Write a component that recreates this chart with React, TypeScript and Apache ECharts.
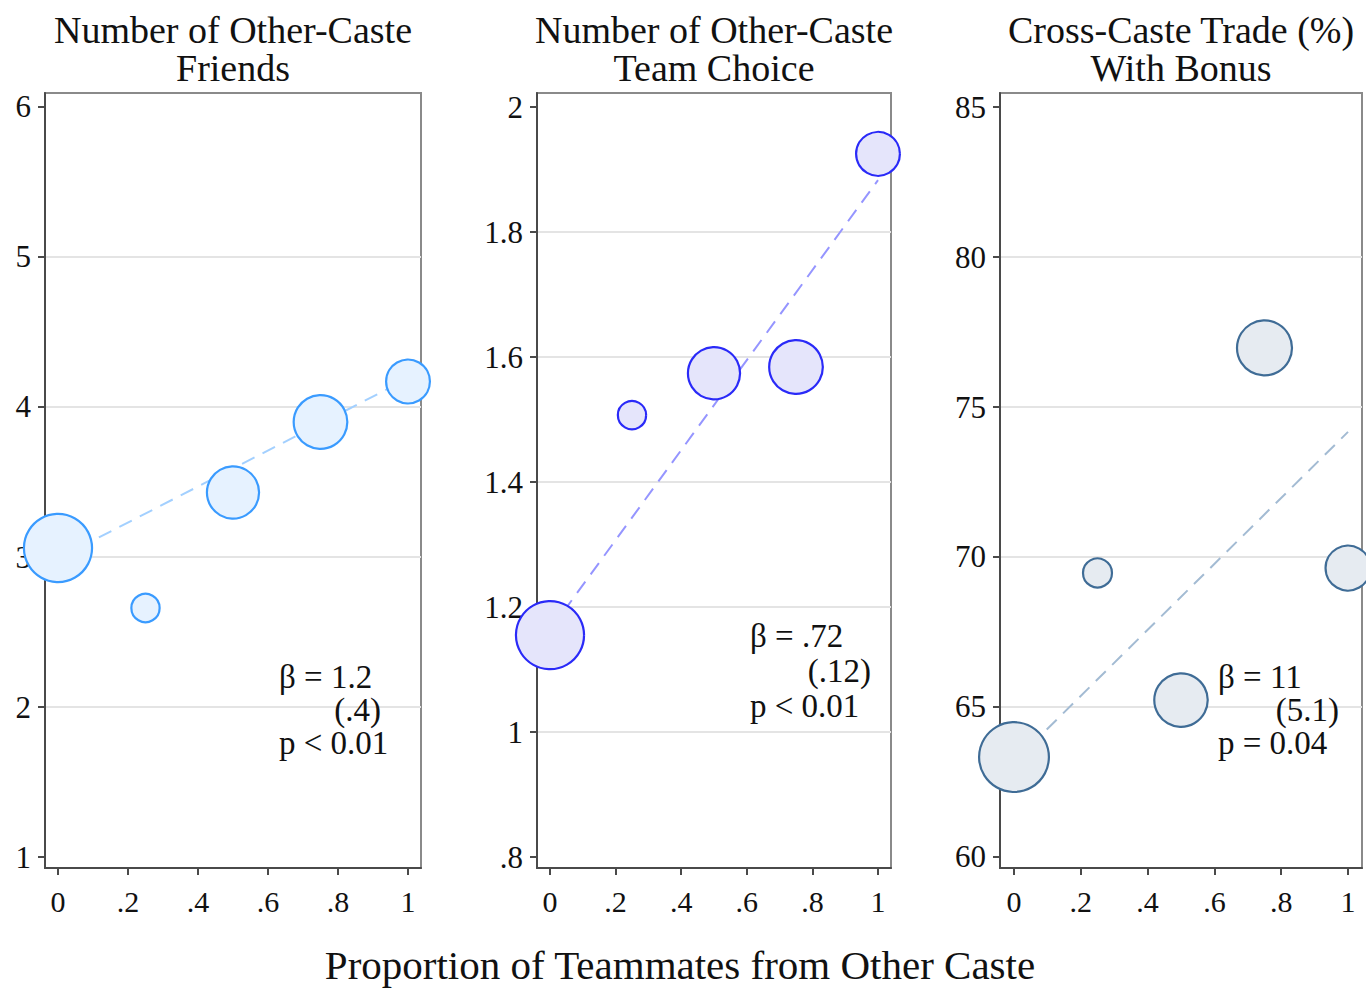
import React, { useEffect, useRef } from "react";
import * as echarts from "echarts";

// ---- data ----
const xValues = [0, 0.25, 0.5, 0.75, 1];
const groupWeights = [290, 50, 170, 180, 120];
const friendsValues = [3.06, 2.66, 3.43, 3.9, 4.17];
const teamChoiceValues = [1.155, 1.507, 1.574, 1.584, 1.925];
const tradeValues = [63.33, 69.47, 65.23, 76.97, 69.63];
const fitX = [0, 1];
const friendsFit = [2.99, 4.19];
const teamChoiceFit = [1.163, 1.883];
const tradeFit = [63.17, 74.17];

const xTicks = [0, 0.2, 0.4, 0.6, 0.8, 1];
const xTickLabels = ["0", ".2", ".4", ".6", ".8", "1"];
const friendsTicks = [1, 2, 3, 4, 5, 6];
const friendsTickLabels = ["1", "2", "3", "4", "5", "6"];
const teamTicks = [0.8, 1, 1.2, 1.4, 1.6, 1.8, 2];
const teamTickLabels = [".8", "1", "1.2", "1.4", "1.6", "1.8", "2"];
const tradeTicks = [60, 65, 70, 75, 80, 85];
const tradeTickLabels = ["60", "65", "70", "75", "80", "85"];

const titles = [
  ["Number of Other-Caste", "Friends"],
  ["Number of Other-Caste", "Team Choice"],
  ["Cross-Caste Trade (%)", "With Bonus"],
];
const statsLines = [
  ["β = 1.2", "(.4)", "p < 0.01"],
  ["β = .72", "(.12)", "p < 0.01"],
  ["β = 11", "(5.1)", "p = 0.04"],
];
const xTitle = "Proportion of Teammates from Other Caste";

const FONT = "'Liberation Serif', 'Times New Roman', serif";

const panels = [
  {
    grid: { left: 45, top: 93, width: 376, height: 775 },
    xRange: [-0.0371, 1.0371],
    yRange: [0.9267, 6.0933],
    yStep: 1,
    yTicks: friendsTicks,
    yLabels: friendsTickLabels,
    values: friendsValues,
    fit: friendsFit,
    stroke: "#3a9bff",
    fill: "#e6f2ff",
    dash: "#a3d0ff",
    titleX: 233,
    statsLeft: 279,
    statsRight: 381,
    statsY: [677, 710, 743],
    sizeK: 4,
  },
  {
    grid: { left: 537, top: 93, width: 354, height: 775 },
    xRange: [-0.0396, 1.0396],
    yRange: [0.7824, 2.0224],
    yStep: 0.2,
    yTicks: teamTicks,
    yLabels: teamTickLabels,
    values: teamChoiceValues,
    fit: teamChoiceFit,
    stroke: "#2a2af8",
    fill: "#e5e5fb",
    dash: "#9595ff",
    titleX: 714,
    statsLeft: 750,
    statsRight: 871,
    statsY: [636, 671, 706],
    sizeK: 4,
  },
  {
    grid: { left: 1000, top: 93, width: 362, height: 775 },
    xRange: [-0.0419, 1.0419],
    yRange: [59.633, 85.467],
    yStep: 5,
    yTicks: tradeTicks,
    yLabels: tradeTickLabels,
    values: tradeValues,
    fit: tradeFit,
    stroke: "#3f6c96",
    fill: "#e6ebf1",
    dash: "#a3bbd3",
    titleX: 1181,
    statsLeft: 1218,
    statsRight: 1339,
    statsY: [677, 710, 743],
    sizeK: 4.1,
  },
];

function labelFor(ticks: number[], labels: string[]) {
  return (v: number) => {
    let best = 0;
    let bd = Infinity;
    ticks.forEach((t, i) => {
      const d = Math.abs(t - v);
      if (d < bd) {
        bd = d;
        best = i;
      }
    });
    return bd < 1e-6 ? labels[best] : "";
  };
}

export default function App() {
  const ref = useRef<HTMLDivElement>(null);

  useEffect(() => {
    if (!ref.current) return;
    const chart = echarts.init(ref.current, undefined, { renderer: "svg" });

    const grids: any[] = [];
    const xAxes: any[] = [];
    const yAxes: any[] = [];
    const series: any[] = [];
    const graphics: any[] = [];

    panels.forEach((p, i) => {
      grids.push({
        ...p.grid,
        show: true,
        borderColor: "#8a8a8a",
        borderWidth: 2,
        backgroundColor: "#ffffff",
      });
      xAxes.push({
        type: "value",
        gridIndex: i,
        min: p.xRange[0],
        max: p.xRange[1],
        minInterval: 0.2,
        maxInterval: 0.2,
        axisLine: { show: true, onZero: false, lineStyle: { color: "#4a4a4a", width: 2 } },
        axisTick: { show: true, length: 7, customValues: xTicks, lineStyle: { color: "#4a4a4a", width: 2 } },
        axisLabel: {
          customValues: xTicks,
          formatter: labelFor(xTicks, xTickLabels),
          fontFamily: FONT,
          fontSize: 30,
          color: "#111",
          margin: 18,
        },
        splitLine: { show: false },
      });
      yAxes.push({
        type: "value",
        gridIndex: i,
        min: p.yRange[0],
        max: p.yRange[1],
        minInterval: p.yStep,
        maxInterval: p.yStep,
        axisLine: { show: true, onZero: false, lineStyle: { color: "#4a4a4a", width: 2 } },
        axisTick: { show: true, length: 7, customValues: p.yTicks, lineStyle: { color: "#4a4a4a", width: 2 } },
        axisLabel: {
          customValues: p.yTicks,
          formatter: labelFor(p.yTicks, p.yLabels),
          fontFamily: FONT,
          fontSize: 31,
          color: "#111",
          margin: 14,
        },
        splitLine: {
          show: true,
          showMinLine: false,
          showMaxLine: false,
          lineStyle: { color: "#e4e4e4", width: 2 },
        },
      });
      series.push({
        type: "line",
        xAxisIndex: i,
        yAxisIndex: i,
        data: fitX.map((x, k) => [x, p.fit[k]]),
        symbol: "none",
        lineStyle: { color: p.dash, width: 2, type: [14, 9] },
        z: 2,
        silent: true,
      });
      series.push({
        type: "scatter",
        xAxisIndex: i,
        yAxisIndex: i,
        clip: false,
        data: xValues.map((x, k) => [x, p.values[k]]),
        symbolSize: (_v: any, params: any) => p.sizeK * Math.sqrt(groupWeights[params.dataIndex]),
        itemStyle: { color: p.fill, borderColor: p.stroke, borderWidth: 2.2, opacity: 1 },
        z: 3,
      });

      // panel titles
      titles[i].forEach((line, k) => {
        graphics.push({
          type: "text",
          x: p.titleX,
          y: 30 + k * 38,
          style: {
            text: line,
            font: `38px ${FONT}`,
            fill: "#111",
            align: "center",
            verticalAlign: "middle",
            textAlign: "center",
            textVerticalAlign: "middle",
          },
        });
      });
      // regression statistics
      statsLines[i].forEach((line, k) => {
        const right = k === 1;
        graphics.push({
          type: "text",
          x: right ? p.statsRight : p.statsLeft,
          y: p.statsY[k],
          z: 10,
          style: {
            text: line,
            font: `33px ${FONT}`,
            fill: "#111",
            align: right ? "right" : "left",
            verticalAlign: "middle",
            textAlign: right ? "right" : "left",
            textVerticalAlign: "middle",
          },
        });
      });
    });

    graphics.push({
      type: "text",
      x: 680,
      y: 965,
      style: {
        text: xTitle,
        font: `41px ${FONT}`,
        fill: "#111",
        align: "center",
        verticalAlign: "middle",
        textAlign: "center",
        textVerticalAlign: "middle",
      },
    });

    chart.setOption({
      animation: false,
      backgroundColor: "#ffffff",
      grid: grids,
      xAxis: xAxes,
      yAxis: yAxes,
      series,
      graphic: { elements: graphics },
    });

    return () => chart.dispose();
  }, []);

  return (
    <div
      ref={ref}
      style={{ position: "absolute", left: 0, top: 0, width: 1366, height: 988, background: "#fff" }}
    />
  );
}
